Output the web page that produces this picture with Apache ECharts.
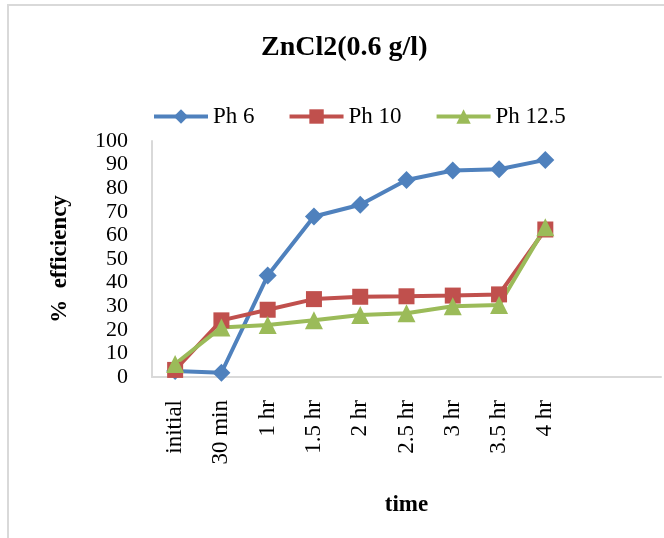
<!DOCTYPE html>
<html>
<head>
<meta charset="utf-8">
<script src="https://cdn.jsdelivr.net/npm/echarts@6/dist/echarts.min.js"></script>
<style>
  html, body { margin: 0; padding: 0; background: #fff; }
  #chart { width: 664px; height: 538px; }
</style>
</head>
<body>
<div id="chart"></div>
<script>
const categories = ["initial", "30 min", "1 hr", "1.5 hr", "2 hr", "2.5 hr", "3 hr", "3.5 hr", "4 hr", "", ""];
const ph6 = [2.5, 1.8, 43, 68, 73, 83.5, 87.5, 88, 92, null, null];
const ph10 = [3, 24, 28.5, 33, 34, 34.2, 34.5, 35, 62.5, null, null];
const ph125 = [5.5, 21, 22, 24, 26.3, 27, 30, 30.5, 63.5, null, null];
const yTicks = { min: 0, max: 100, interval: 10 };

const serif = "Liberation Serif";
const colors = ["#4F81BD", "#C0504D", "#9BBB59"];

const chart = echarts.init(document.getElementById("chart"));

let seriesDefs = [
  { name: "Ph 6", data: ph6, symbol: "diamond", size: 18 },
  { name: "Ph 10", data: ph10, symbol: "rect", size: 16 },
  { name: "Ph 12.5", data: ph125, symbol: "triangle", size: 18 },
];

let option = {
  animation: false,
  color: colors,
  title: {
    text: "ZnCl2(0.6 g/l)",
    left: 256,
    top: 29,
    textStyle: { fontFamily: serif, fontSize: 28, fontWeight: "bold", color: "#000" },
  },
  legend: {
    left: 152,
    top: 105,
    padding: 0,
    itemWidth: 54,
    itemHeight: 18,
    itemGap: 33,
    lineStyle: { width: 4 },
    textStyle: { fontFamily: serif, fontSize: 23, color: "#000" },
  },
  grid: { left: 152, right: 3, top: 141, bottom: 161, containLabel: false },
  xAxis: {
    type: "category",
    data: categories,
    boundaryGap: true,
    name: "time",
    nameLocation: "middle",
    nameGap: 117,
    nameTextStyle: { fontFamily: serif, fontSize: 23, fontWeight: "bold", color: "#000" },
    axisLine: { lineStyle: { color: "#D9D9D9", width: 2 } },
    axisTick: { show: false },
    axisLabel: { rotate: 90, margin: 23, interval: 0, fontFamily: serif, fontSize: 23, color: "#000" },
  },
  yAxis: {
    type: "value",
    min: yTicks.min,
    max: yTicks.max,
    interval: yTicks.interval,
    name: "%  efficiency",
    nameLocation: "middle",
    nameRotate: 90,
    nameGap: 80,
    nameTextStyle: { fontFamily: serif, fontSize: 23, fontWeight: "bold", color: "#000" },
    axisLine: { show: true, lineStyle: { color: "#D9D9D9", width: 2 } },
    axisTick: { show: false },
    splitLine: { show: false },
    axisLabel: { margin: 24, fontFamily: serif, fontSize: 22, color: "#000" },
  },
  graphic: [
    {
      type: "rect",
      shape: { x: 8, y: 5, width: 700, height: 600 },
      style: { fill: "none", stroke: "#D9D9D9", lineWidth: 2 },
      silent: true,
    },
  ],
  series: seriesDefs.map((s) => {
    return {
      name: s.name,
      type: "line",
      data: s.data,
      symbol: s.symbol,
      symbolSize: s.size,
      showAllSymbol: true,
      lineStyle: { width: 4 },
      connectNulls: false,
    };
  }),
};

chart.setOption(option);
</script>
</body>
</html>
